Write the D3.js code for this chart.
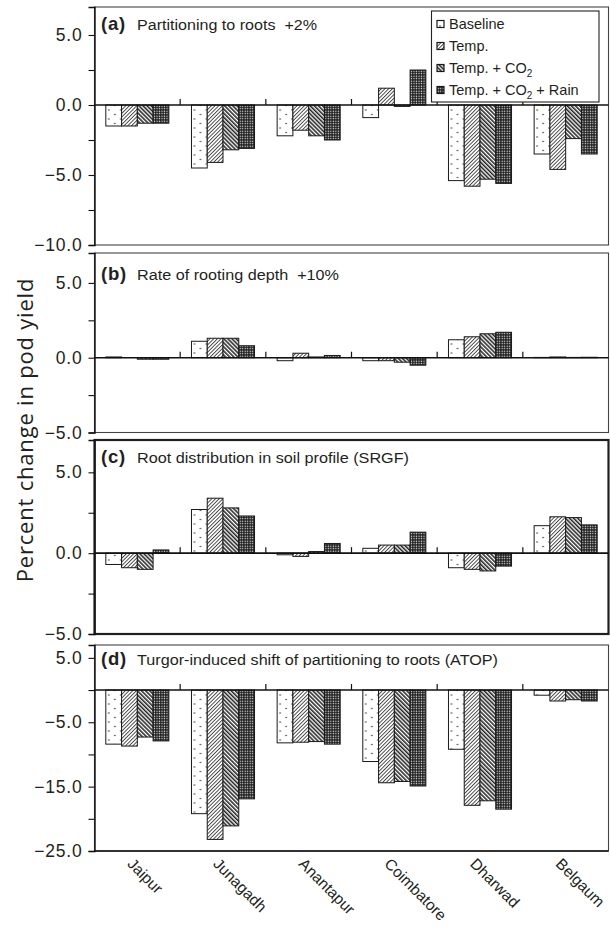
<!DOCTYPE html>
<html>
<head>
<meta charset="utf-8">
<script src="https://cdn.jsdelivr.net/npm/d3@7"></script>
<style>
body { margin: 0; background: #fff; }
text { fill: #231f20; }
</style>
</head>
<body>
<div id="chart"></div>
<script>
// Data

var cities = ["Jaipur", "Junagadh", "Anantapur", "Coimbatore", "Dharwad", "Belgaum"];
var scenarios = ["Baseline", "Temp.", "Temp. + CO2", "Temp. + CO2 + Rain"];

// one row per city, one column per scenario (% change in pod yield)
var partitioning = [
  [-1.5, -1.5, -1.3, -1.3],
  [-4.5, -4.1, -3.2, -3.1],
  [-2.2, -1.8, -2.2, -2.5],
  [-0.9, 1.2, -0.1, 2.5],
  [-5.4, -5.8, -5.3, -5.6],
  [-3.5, -4.6, -2.4, -3.5]
];
var rootingDepth = [
  [0.05, 0.0, -0.1, -0.1],
  [1.1, 1.3, 1.3, 0.8],
  [-0.2, 0.3, 0.05, 0.15],
  [-0.2, -0.2, -0.3, -0.5],
  [1.2, 1.4, 1.6, 1.7],
  [0.02, 0.05, 0.02, 0.03]
];
var rootDistribution = [
  [-0.7, -0.9, -1.0, 0.2],
  [2.7, 3.4, 2.8, 2.3],
  [-0.1, -0.2, 0.1, 0.6],
  [0.3, 0.5, 0.5, 1.3],
  [-0.9, -1.0, -1.1, -0.8],
  [1.7, 2.25, 2.2, 1.75]
];
var turgorShift = [
  [-8.4, -8.7, -7.3, -7.9],
  [-19.2, -23.2, -21.1, -16.9],
  [-8.2, -8.1, -8.0, -8.4],
  [-11.1, -14.4, -14.2, -14.9],
  [-9.2, -17.9, -17.2, -18.5],
  [-0.8, -1.7, -1.5, -1.7]
];

var panelTags = ["(a)", "(b)", "(c)", "(d)"];
var panelTitles = [
  "Partitioning to roots  +2%",
  "Rate of rooting depth  +10%",
  "Root distribution in soil profile (SRGF)",
  "Turgor-induced shift of partitioning to roots (ATOP)"
];

var ticksA = [5, 2.5, 0, -2.5, -5, -7.5, -10];
var ticksBC = [5, 2.5, 0, -2.5, -5];
var ticksD = [5, 0, -5, -10, -15, -20, -25];
var labelsA = [5, 0, -5, -10];
var labelsBC = [5, 0, -5];
var labelsD = [5, -5, -15, -25];

// Layout

var W = 610, H = 945;
var left = 94.5, right = 608.5;
var font = "'Liberation Sans', Arial, sans-serif";

var panels = [
  {values: partitioning, domain: [-10, 7], top: 7, bottom: 245, ticks: ticksA, labels: labelsA, titleY: 30, titleW: 180, stroke: 1.1},
  {values: rootingDepth, domain: [-5, 7], top: 253, bottom: 432.5, ticks: ticksBC, labels: labelsBC, titleY: 280, titleW: 202, stroke: 1.1},
  {values: rootDistribution, domain: [-5, 7], top: 440, bottom: 634, ticks: ticksBC, labels: labelsBC, titleY: 463, titleW: 272, stroke: 2.2},
  {values: turgorShift, domain: [-25, 7], top: 645, bottom: 851, ticks: ticksD, labels: labelsD, titleY: 664.5, titleW: 361, stroke: 1.1}
];

var svg = d3.select("#chart").append("svg")
    .attr("width", W)
    .attr("height", H);

// fill patterns for the four scenarios
var defs = svg.append("defs");

var pDots = defs.append("pattern")
    .attr("id", "pat0")
    .attr("patternUnits", "userSpaceOnUse")
    .attr("width", 12).attr("height", 9);
pDots.append("rect").attr("width", 12).attr("height", 9).attr("fill", "#fff");
pDots.append("circle").attr("cx", 3).attr("cy", 2).attr("r", 0.75).attr("fill", "#222");
pDots.append("circle").attr("cx", 9).attr("cy", 6.5).attr("r", 0.75).attr("fill", "#222");

var pFwd = defs.append("pattern")
    .attr("id", "pat1")
    .attr("patternUnits", "userSpaceOnUse")
    .attr("width", 2.6).attr("height", 2.6)
    .attr("patternTransform", "rotate(45)");
pFwd.append("rect").attr("width", 2.6).attr("height", 2.6).attr("fill", "#fff");
pFwd.append("line").attr("x1", 0.5).attr("y1", 0).attr("x2", 0.5).attr("y2", 2.6)
    .attr("stroke", "#222").attr("stroke-width", 0.8);

var pBack = defs.append("pattern")
    .attr("id", "pat2")
    .attr("patternUnits", "userSpaceOnUse")
    .attr("width", 2.9).attr("height", 2.9)
    .attr("patternTransform", "rotate(-45)");
pBack.append("rect").attr("width", 2.9).attr("height", 2.9).attr("fill", "#fff");
pBack.append("line").attr("x1", 0.8).attr("y1", 0).attr("x2", 0.8).attr("y2", 2.9)
    .attr("stroke", "#1a1a1a").attr("stroke-width", 1.5);

var pGrid = defs.append("pattern")
    .attr("id", "pat3")
    .attr("patternUnits", "userSpaceOnUse")
    .attr("width", 2.5).attr("height", 2.5);
pGrid.append("rect").attr("width", 2.5).attr("height", 2.5).attr("fill", "#1a1a1a");
pGrid.append("rect").attr("x", 0.6).attr("y", 0.6).attr("width", 1.2).attr("height", 1.2).attr("fill", "#fff");

var x0 = d3.scaleBand()
    .domain(cities)
    .range([left, right])
    .paddingInner(0.264)
    .paddingOuter(0.132);

var x1 = d3.scaleBand()
    .domain(d3.range(scenarios.length))
    .range([0, x0.bandwidth()]);

var fmt = d3.format(".1f");

panels.forEach(function(p, k) {
  var y = d3.scaleLinear()
      .domain(p.domain)
      .range([p.bottom, p.top]);

  var g = svg.append("g").attr("class", "panel");

  // frame
  g.append("rect")
      .attr("x", left)
      .attr("y", p.top)
      .attr("width", right - left)
      .attr("height", p.bottom - p.top)
      .attr("fill", "#fff")
      .attr("stroke", k == 2 ? "#1f1f1f" : "#444")
      .attr("stroke-width", p.stroke);

  // bars
  var groups = g.selectAll(".city")
      .data(p.values)
      .enter().append("g")
      .attr("class", "city")
      .attr("transform", function(d, i) { return "translate(" + x0(cities[i]) + ",0)"; });

  groups.selectAll("rect")
      .data(function(d) { return d; })
      .enter().append("rect")
      .attr("x", function(d, j) { return x1(j); })
      .attr("y", function(d) { return Math.min(y(d), y(0)); })
      .attr("width", x1.bandwidth())
      .attr("height", function(d) { return Math.abs(y(d) - y(0)); })
      .attr("fill", function(d, j) { return "url(#pat" + j + ")"; })
      .attr("stroke", "#1a1a1a")
      .attr("stroke-width", 1);

  // zero line
  g.append("line")
      .attr("x1", left).attr("x2", right)
      .attr("y1", y(0)).attr("y2", y(0))
      .attr("stroke", "#111")
      .attr("stroke-width", 1.6);

  // group separators on the zero line
  g.selectAll(".sep")
      .data(cities.slice(1))
      .enter().append("line")
      .attr("class", "sep")
      .attr("x1", function(c) { return x0(c) - x0.step() * x0.paddingInner() / 2; })
      .attr("x2", function(c) { return x0(c) - x0.step() * x0.paddingInner() / 2; })
      .attr("y1", y(0)).attr("y2", y(0) - 6)
      .attr("stroke", "#111")
      .attr("stroke-width", 1.2);

  // y axis
  var yAxis = d3.axisLeft(y)
      .tickValues(p.ticks)
      .tickSize(6)
      .tickPadding(6)
      .tickFormat(function(d) { return p.labels.indexOf(d) >= 0 ? fmt(d) : ""; });

  var ax = g.append("g")
      .attr("transform", "translate(" + left + ",0)")
      .call(yAxis);
  ax.select(".domain").attr("stroke", "#111").attr("stroke-width", 1.4);
  ax.selectAll(".tick line").attr("stroke", "#111").attr("stroke-width", 1.1);
  ax.selectAll(".tick text")
      .style("font-family", font)
      .style("font-size", "17.5px")
      .style("letter-spacing", "0.8px")
      .attr("fill", "#231f20");

  if (k == 3) {
    g.append("line")
        .attr("x1", left).attr("x2", right)
        .attr("y1", p.bottom).attr("y2", p.bottom)
        .attr("stroke", "#111").attr("stroke-width", 1.4);
  }

  // title
  g.append("text")
      .attr("x", 101)
      .attr("y", p.titleY)
      .style("font-family", font)
      .style("font-weight", "bold")
      .style("font-size", "18.5px")
      .style("letter-spacing", "0.8px")
      .text(panelTags[k]);
  g.append("text")
      .attr("x", 137)
      .attr("y", p.titleY)
      .attr("textLength", p.titleW)
      .attr("lengthAdjust", "spacingAndGlyphs")
      .style("font-family", font)
      .style("font-size", "15.5px")
      .style("white-space", "pre")
      .text(panelTitles[k]);

  // legend in the first panel
  if (k == 0) {
    var lg = g.append("g").attr("class", "legend");
    lg.append("rect")
        .attr("x", 431.5).attr("y", 11)
        .attr("width", 167.5).attr("height", 91)
        .attr("fill", "#fff")
        .attr("stroke", "#222")
        .attr("stroke-width", 1.1);
    var rows = lg.selectAll(".row")
        .data(scenarios)
        .enter().append("g")
        .attr("class", "row")
        .attr("transform", function(d, j) { return "translate(437," + (24 + j * 22) + ")"; });
    rows.append("rect")
        .attr("x", 0).attr("y", -3.5)
        .attr("width", 7).attr("height", 7)
        .attr("fill", function(d, j) { return "url(#pat" + j + ")"; })
        .attr("stroke", "#1a1a1a")
        .attr("stroke-width", 1.2);
    rows.each(function(d) {
      var txt = d3.select(this).append("text")
          .attr("x", 12)
          .attr("y", 5)
          .style("font-family", font)
          .style("font-size", "14.5px");
      var parts = d.split("CO2");
      txt.append("tspan").text(parts[0]);
      if (parts.length > 1) {
        txt.append("tspan").text("CO");
        txt.append("tspan").attr("dy", 4).style("font-size", "10px").text("2");
        txt.append("tspan").attr("dy", -4).text(parts[1]);
      }
    });
  }
});

// city labels under the last panel
svg.append("g").selectAll(".cityLabel")
    .data(cities)
    .enter().append("text")
    .attr("class", "cityLabel")
    .attr("transform", function(c) {
      return "translate(" + (x0(c) + x0.bandwidth() / 2 - 7) + ",861) rotate(45)";
    })
    .attr("dy", "0.35em")
    .attr("text-anchor", "start")
    .style("font-family", font)
    .style("font-size", "15.5px")
    .text(function(c) { return c; });

// y axis title
svg.append("text")
    .attr("transform", "translate(33,430) rotate(-90)")
    .attr("text-anchor", "middle")
    .style("font-family", "'Open Sans', sans-serif")
    .style("font-size", "22px")
    .style("letter-spacing", "0.8px")
    .text("Percent change in pod yield");
</script>
</body>
</html>
